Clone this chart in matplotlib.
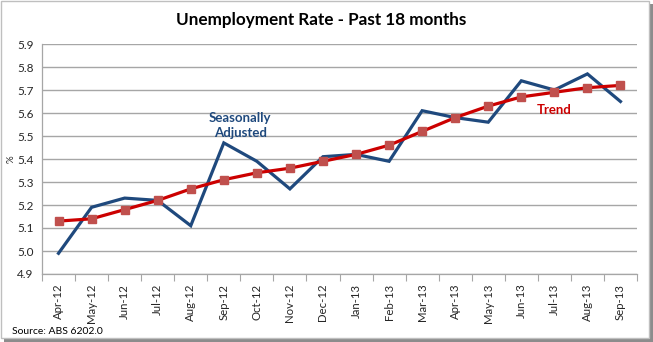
import matplotlib
matplotlib.use("Agg")
import matplotlib.pyplot as plt
from matplotlib.patches import Rectangle
import numpy as np

# Datos (ABS 6202.0)
months = ["Apr-12", "May-12", "Jun-12", "Jul-12", "Aug-12", "Sep-12", "Oct-12",
          "Nov-12", "Dec-12", "Jan-13", "Feb-13", "Mar-13", "Apr-13", "May-13",
          "Jun-13", "Jul-13", "Aug-13", "Sep-13"]
seasonally_adjusted = [4.99, 5.19, 5.23, 5.22, 5.11, 5.47, 5.39, 5.27, 5.41,
                       5.42, 5.39, 5.61, 5.58, 5.56, 5.74, 5.70, 5.77, 5.65]
trend = [5.13, 5.14, 5.18, 5.22, 5.27, 5.31, 5.34, 5.36, 5.39,
         5.42, 5.46, 5.52, 5.58, 5.63, 5.67, 5.69, 5.71, 5.72]

BLUE = "#1F497D"
RED = "#CC0000"
MARKER = "#C0504D"
GRID = "#A6A6A6"

plt.rcParams["font.family"] = ["Lato", "DejaVu Sans"]

fig = plt.figure(figsize=(6.53, 3.42), dpi=100)

# Marco exterior con sombra
fig.patches.append(Rectangle((4 / 653, 0), 649 / 653, 338 / 342, transform=fig.transFigure,
                             facecolor="#8C8C8C", edgecolor="none", zorder=-2))
fig.patches.append(Rectangle((1 / 653, 4 / 342), 648 / 653, 337 / 342, transform=fig.transFigure,
                             facecolor="white", edgecolor="#BFBFBF", linewidth=1.0, zorder=-1))

ax = fig.add_axes([42 / 653, 1 - 274 / 342, 595 / 653, 230 / 342])
ax.set_zorder(5)
ax.set_facecolor("none")
x = np.arange(len(months))

ax.plot(x, seasonally_adjusted, color=BLUE, linewidth=2.3, zorder=3, solid_joinstyle="miter")
ax.plot(x, trend, color=RED, linewidth=2.3, zorder=4, marker="s", markersize=5.3,
        markerfacecolor=MARKER, markeredgecolor=MARKER)

ax.set_xlim(-0.5, len(months) - 0.5)
ax.set_ylim(4.9, 5.9)
ax.set_yticks(np.arange(4.9, 5.95, 0.1))
ax.set_yticklabels([f"{v:.1f}" for v in np.arange(4.9, 5.95, 0.1)], fontsize=8.5, color="#262626")
ax.set_xticks(x)
ax.set_xticklabels(months, rotation=90, fontsize=8.2, color="#262626")
ax.set_xticks(np.arange(-0.5, len(months), 1), minor=True)
ax.tick_params(axis="x", which="major", length=0, pad=7)
ax.tick_params(axis="x", which="minor", length=5, color=GRID, width=0.8)
ax.tick_params(axis="y", length=0, pad=6)

ax.grid(axis="y", color=GRID, linewidth=1.0)
ax.set_axisbelow(True)
for side in ["top", "right"]:
    ax.spines[side].set_visible(False)
for side in ["left", "bottom"]:
    ax.spines[side].set_color(GRID)
    ax.spines[side].set_linewidth(0.9)

ax.set_ylabel("%", fontsize=7, labelpad=1, color="#262626")

ax.text(5.5, 5.545, "Seasonally\nAdjusted", color=BLUE, fontsize=9.5, fontweight="bold",
        ha="center", va="center", linespacing=1.3)
ax.text(15.0, 5.615, "Trend", color=RED, fontsize=9.5, fontweight="bold",
        ha="center", va="center")

fig.text(321 / 653, 1 - 20 / 342, "Unemployment Rate - Past 18 months", fontsize=12.3,
         fontweight="bold", ha="center", va="center", color="black")
fig.text(12 / 653, 1 - 331 / 342, "Source: ABS 6202.0", fontsize=7.5, ha="left",
         va="center", color="black")

fig.savefig("out.png", dpi=100)
